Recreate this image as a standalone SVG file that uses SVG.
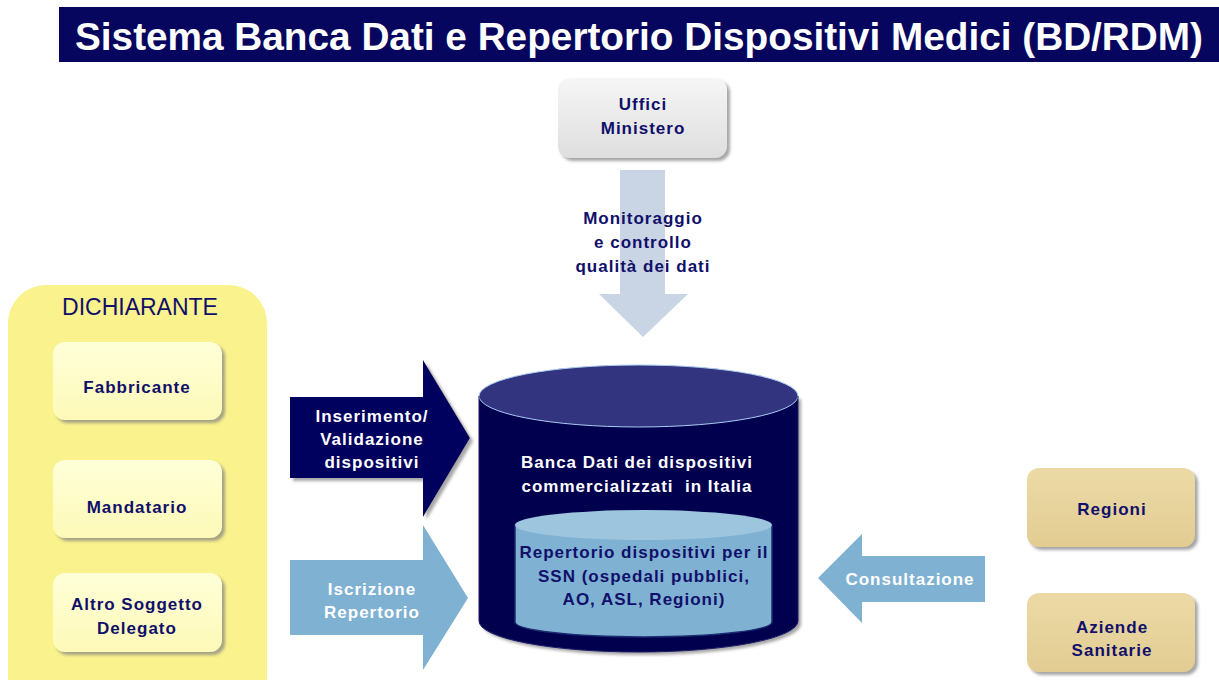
<svg xmlns="http://www.w3.org/2000/svg" width="1219" height="680" viewBox="0 0 1219 680">
<defs>
<style>
.t{font-family:"Liberation Sans",Arial,sans-serif;font-weight:bold;font-size:17px;letter-spacing:1px;text-anchor:middle;fill:#10106a}
.w{fill:#ffffff}
</style>
<filter id="sh" x="-10%" y="-10%" width="130%" height="130%">
<feDropShadow dx="3" dy="3" stdDeviation="1.5" flood-color="#808080" flood-opacity="0.7"/>
</filter>
<linearGradient id="gGray" x1="0" y1="0" x2="0" y2="1"><stop offset="0" stop-color="#f6f6f6"/><stop offset="1" stop-color="#dedede"/></linearGradient>
<linearGradient id="gYel" x1="0" y1="0" x2="0" y2="1"><stop offset="0" stop-color="#ffffd8"/><stop offset="1" stop-color="#fdf9b8"/></linearGradient>
<linearGradient id="gTan" x1="0" y1="0" x2="0" y2="1"><stop offset="0" stop-color="#ecdaa6"/><stop offset="1" stop-color="#e2cc92"/></linearGradient>
</defs>
<rect width="1219" height="680" fill="#ffffff"/>
<g id="title">
<rect x="59" y="7" width="1160" height="55" fill="#06065f"/>
<text x="75" y="50" font-family="'Liberation Sans',Arial,sans-serif" font-weight="bold" font-size="38" fill="#ffffff" textLength="1128" lengthAdjust="spacingAndGlyphs">Sistema Banca Dati e Repertorio Dispositivi Medici (BD/RDM)</text>
</g>
<g id="connectors">
<g id="arrow-monitoraggio">
<polygon points="620,170 665,170 665,294 688,294 643,337 599,294 620,294" fill="#c9d5e4"/>
<text class="t" x="643" y="224">Monitoraggio</text>
<text class="t" x="643" y="248">e controllo</text>
<text class="t" x="643" y="272">qualità dei dati</text>
</g>
<g id="arrow-inserimento">
<polygon points="290,397 423,397 423,360 470,438 423,517 423,478 290,478" fill="#05055e" filter="url(#sh)"/>
<text class="t w" x="372" y="422">Inserimento/</text>
<text class="t w" x="372" y="445">Validazione</text>
<text class="t w" x="372" y="468">dispositivi</text>
</g>
<g id="arrow-iscrizione">
<polygon points="290,560 423,560 423,525 468,598 423,670 423,635 290,635" fill="#7fb1d3"/>
<text class="t w" x="372" y="595">Iscrizione</text>
<text class="t w" x="372" y="618">Repertorio</text>
</g>
<g id="arrow-consultazione">
<polygon points="985,556 862,556 862,534 818,578 862,623 862,602 985,602" fill="#7fb1d3"/>
<text class="t w" x="910" y="585">Consultazione</text>
</g>
</g>
<g id="uffici">
<rect x="558" y="78" width="169" height="80" rx="12" fill="url(#gGray)" filter="url(#sh)"/>
<text class="t" x="643" y="110">Uffici</text>
<text class="t" x="643" y="134">Ministero</text>
</g>
<g id="dichiarante">
<rect x="8" y="285" width="259" height="430" rx="38" fill="#faf28c"/>
<text x="140" y="315" font-family="'Liberation Sans',Arial,sans-serif" font-size="23" text-anchor="middle" fill="#10106a">DICHIARANTE</text>
</g>
<g id="fabbricante">
<rect x="53" y="342" width="169" height="78" rx="12" fill="url(#gYel)" filter="url(#sh)"/>
<text class="t" x="137" y="393">Fabbricante</text>
</g>
<g id="mandatario">
<rect x="53" y="460" width="169" height="78" rx="12" fill="url(#gYel)" filter="url(#sh)"/>
<text class="t" x="137" y="513">Mandatario</text>
</g>
<g id="altro">
<rect x="53" y="573" width="169" height="79" rx="12" fill="url(#gYel)" filter="url(#sh)"/>
<text class="t" x="137" y="610">Altro Soggetto</text>
<text class="t" x="137" y="634">Delegato</text>
</g>
<g id="banca-dati">
<path d="M479,396 L479,621 A159.5,31 0 0 0 798,621 L798,396 Z" fill="#03034f" filter="url(#sh)"/>
<ellipse cx="638.5" cy="396" rx="159.5" ry="31" fill="#33347f" stroke="#a8ccf0" stroke-width="1"/>
<path d="M479,396 L479,621 A159.5,31 0 0 0 798,621 L798,396" fill="none" stroke="#1a1a6a" stroke-width="1"/>
<text class="t w" x="637" y="468">Banca Dati dei dispositivi</text>
<text class="t w" x="637" y="492" xml:space="preserve">commercializzati  in Italia</text>
</g>
<g id="repertorio">
<path d="M515,525 L515,622 A128.5,15 0 0 0 772,622 L772,525 Z" fill="#7fb1d3" stroke="#1c2a70" stroke-width="1.5"/>
<ellipse cx="643.5" cy="525" rx="128.5" ry="15" fill="#9ec5de"/>
<text class="t" x="644" y="558">Repertorio dispositivi per il</text>
<text class="t" x="644" y="582">SSN (ospedali pubblici,</text>
<text class="t" x="644" y="605">AO, ASL, Regioni)</text>
</g>
<g id="regioni">
<rect x="1027" y="468" width="168" height="79" rx="12" fill="url(#gTan)" filter="url(#sh)"/>
<text class="t" x="1112" y="515">Regioni</text>
</g>
<g id="aziende">
<rect x="1027" y="593" width="168" height="79" rx="12" fill="url(#gTan)" filter="url(#sh)"/>
<text class="t" x="1112" y="633">Aziende</text>
<text class="t" x="1112" y="656">Sanitarie</text>
</g>
</svg>
